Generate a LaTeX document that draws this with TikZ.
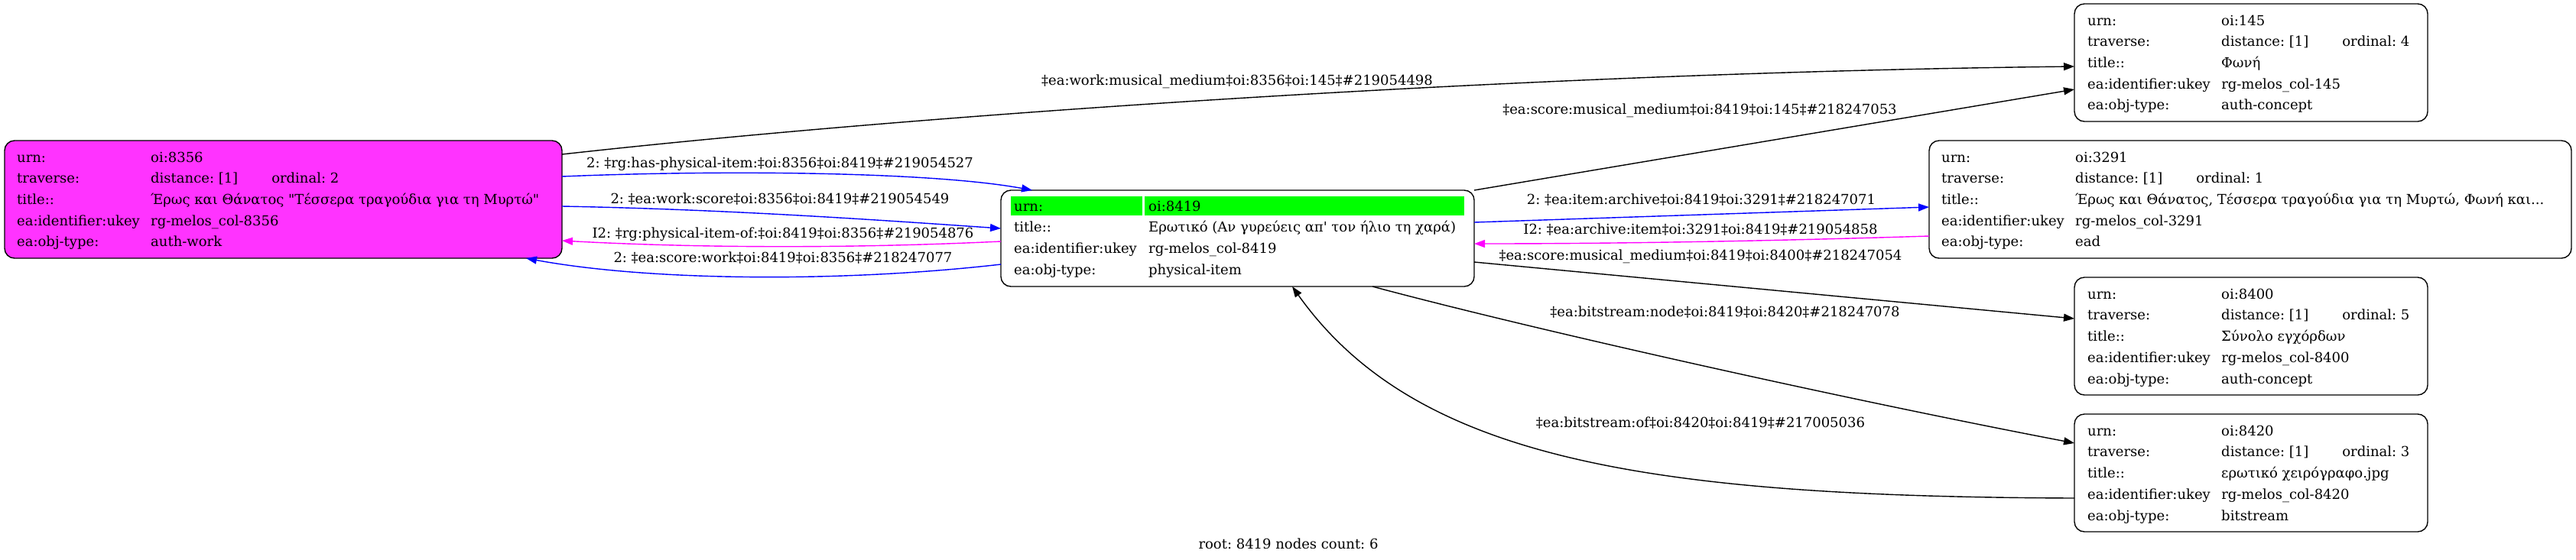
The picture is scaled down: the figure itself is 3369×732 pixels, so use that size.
\documentclass[tikz,border=0pt]{standalone}
\usepackage{fontspec}
\setmainfont{DejaVu Serif}[Ligatures=TeXOff]
\usetikzlibrary{arrows.meta}
\definecolor{gvmag}{RGB}{255,51,255}
\definecolor{gvmagline}{RGB}{255,0,255}
\definecolor{gvblue}{RGB}{0,0,255}
\definecolor{gvgreen}{RGB}{0,255,0}
\newcommand{\gvfont}{\fontsize{18pt}{27.7pt}\selectfont}
\frenchspacing
\begin{document}
\begin{tikzpicture}[x=1pt,y=-1pt,
  gvbox/.style={draw=black, line width=1.4pt, rounded corners=13pt, inner sep=0pt, outer sep=0pt},
  rows/.style={anchor=north west, inner sep=0pt, font=\gvfont},
  lbl/.style={anchor=base, inner sep=0pt, font=\gvfont},
  gvedge/.style={line width=1.4pt, -{Triangle[length=14pt,width=10pt]}},
  blueedge/.style={gvedge, draw=gvblue, color=gvblue},
  magedge/.style={gvedge, draw=gvmagline, color=gvmagline},
]
\useasboundingbox (0,0) rectangle (3369,732);

% boxes
\node[gvbox, fill=gvmag, minimum width=729pt, minimum height=154pt] (n8356) at (370.5,261) {};
\node[gvbox, fill=white, minimum width=619pt, minimum height=126pt] (n8419) at (1618.5,312) {};
\node[gvbox, minimum width=462pt, minimum height=154pt] (n145) at (2944,82) {};
\node[gvbox, minimum width=840pt, minimum height=154pt] (n3291) at (2943,261) {};
\node[gvbox, minimum width=462pt, minimum height=154pt] (n8400) at (2944,440) {};
\node[gvbox, minimum width=462pt, minimum height=154pt] (n8420) at (2944,619) {};

% green header of root node
\fill[gvgreen] (1322,257) rectangle (1494,282);
\fill[gvgreen] (1497,257) rectangle (1915,282);

% contents
\node[rows] (c8356) at (22,192.6) {\begin{tabular}{@{}p{175pt}@{}l@{}}
urn: & oi:8356\\
traverse: & distance: [1]\hspace{44pt}ordinal: 2\\
title:: & Έρως και Θάνατος "Τέσσερα τραγούδια για τη Μυρτώ"\\
ea:identifier:ukey & rg-melos\_col-8356\\
ea:obj-type: & auth-work
\end{tabular}};

\node[rows] (c8419) at (1326,256.6) {\begin{tabular}{@{}p{176pt}@{}l@{}}
urn: & oi:8419\\
title:: & Ερωτικό (Αν γυρεύεις απ' τον ήλιο τη χαρά)\\
ea:identifier:ukey & rg-melos\_col-8419\\
ea:obj-type: & physical-item
\end{tabular}};

\node[rows] (c145) at (2730,13.6) {\begin{tabular}{@{}p{175pt}@{}l@{}}
urn: & oi:145\\
traverse: & distance: [1]\hspace{44pt}ordinal: 4\\
title:: & Φωνή\\
ea:identifier:ukey & rg-melos\_col-145\\
ea:obj-type: & auth-concept
\end{tabular}};

\node[rows] (c3291) at (2539,192.6) {\begin{tabular}{@{}p{175pt}@{}l@{}}
urn: & oi:3291\\
traverse: & distance: [1]\hspace{44pt}ordinal: 1\\
title:: & Έρως και Θάνατος, Τέσσερα τραγούδια για τη Μυρτώ, Φωνή και...\\
ea:identifier:ukey & rg-melos\_col-3291\\
ea:obj-type: & ead
\end{tabular}};

\node[rows] (c8400) at (2730,371.6) {\begin{tabular}{@{}p{175pt}@{}l@{}}
urn: & oi:8400\\
traverse: & distance: [1]\hspace{44pt}ordinal: 5\\
title:: & Σύνολο εγχόρδων\\
ea:identifier:ukey & rg-melos\_col-8400\\
ea:obj-type: & auth-concept
\end{tabular}};

\node[rows] (c8420) at (2730,550.6) {\begin{tabular}{@{}p{175pt}@{}l@{}}
urn: & oi:8420\\
traverse: & distance: [1]\hspace{44pt}ordinal: 3\\
title:: & ερωτικό χειρόγραφο.jpg\\
ea:identifier:ukey & rg-melos\_col-8420\\
ea:obj-type: & bitstream
\end{tabular}};

% edges
\draw[gvedge] (n8356.east |- 0,202) .. controls (1200,150) and (2000,95) .. (n145.west |- 0,87);
\draw[blueedge] (n8356.east |- 0,231) .. controls (950,222) and (1220,225) .. (1350,0 |- n8419.north);
\draw[blueedge] (n8356.east |- 0,270) .. controls (950,274) and (1150,288) .. (n8419.west |- 0,299);
\draw[magedge] (n8419.west |- 0,316) .. controls (1100,326) and (900,324) .. (n8356.east |- 0,315);
\draw[blueedge] (n8419.west |- 0,346) .. controls (1100,370) and (850,368) .. (688,0 |- n8356.south);
\draw[gvedge] (n8419.north east) -- (n145.west |- 0,117);
\draw[blueedge] (n8419.east |- 0,291) -- (n3291.west |- 0,271);
\draw[magedge] (n3291.west |- 0,309) .. controls (2300,316) and (2100,319) .. (n8419.east |- 0,319);
\draw[gvedge] (n8419.east |- 0,343) -- (n8400.west |- 0,417);
\draw[gvedge] (1795,0 |- n8419.south) .. controls (2000,430) and (2400,520) .. (n8420.west |- 0,580);
\draw[gvedge] (n8420.west |- 0,652) .. controls (2150,650) and (1850,600) .. (1690,0 |- n8419.south);

% edge labels
\node[lbl] (l1) at (1618,111) {‡ea:work:musical\_medium‡oi:8356‡oi:145‡\#219054498};
\node[lbl] (l2) at (2223,149) {‡ea:score:musical\_medium‡oi:8419‡oi:145‡\#218247053};
\node[lbl] (l3) at (1020,219) {2: ‡rg:has-physical-item:‡oi:8356‡oi:8419‡\#219054527};
\node[lbl] (l4) at (1020,266) {2: ‡ea:work:score‡oi:8356‡oi:8419‡\#219054549};
\node[lbl] (l5) at (1024,311) {I2: ‡rg:physical-item-of:‡oi:8419‡oi:8356‡\#219054876};
\node[lbl] (l6) at (1024,343) {2: ‡ea:score:work‡oi:8419‡oi:8356‡\#218247077};
\node[lbl] (l7) at (2225,267) {2: ‡ea:item:archive‡oi:8419‡oi:3291‡\#218247071};
\node[lbl] (l8) at (2224,306) {I2: ‡ea:archive:item‡oi:3291‡oi:8419‡\#219054858};
\node[lbl] (l9) at (2224,340) {‡ea:score:musical\_medium‡oi:8419‡oi:8400‡\#218247054};
\node[lbl] (l10) at (2256,414) {‡ea:bitstream:node‡oi:8419‡oi:8420‡\#218247078};
\node[lbl] (l11) at (2224,559) {‡ea:bitstream:of‡oi:8420‡oi:8419‡\#217005036};
\node[lbl] (root) at (1685,718) {root: 8419 nodes count: 6};
\end{tikzpicture}
\end{document}
